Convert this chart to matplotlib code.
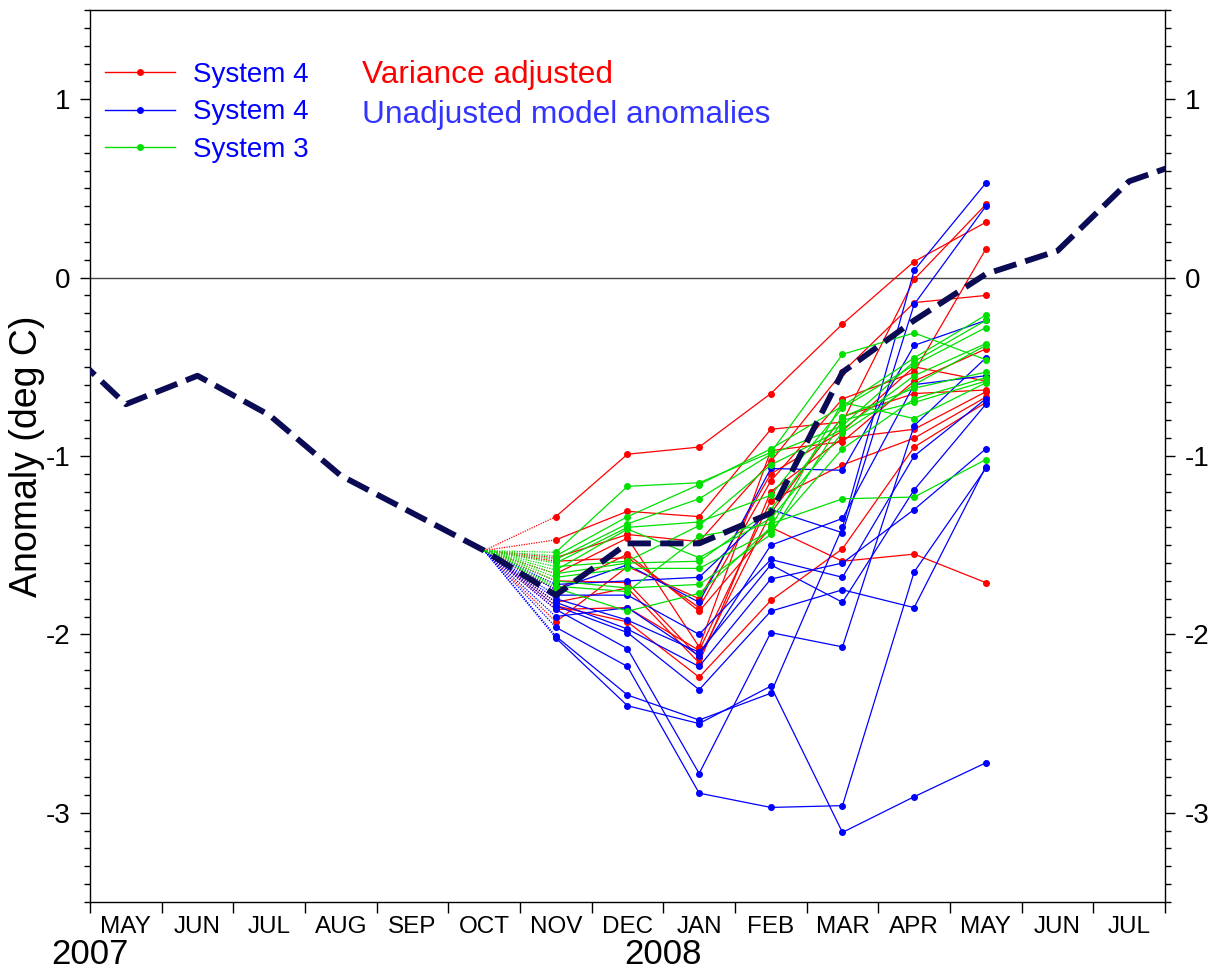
import numpy as np
import matplotlib
matplotlib.use("Agg")
import matplotlib.pyplot as plt
import matplotlib.transforms as mtransforms
from matplotlib.lines import Line2D
from matplotlib.ticker import MultipleLocator, FixedLocator, NullFormatter

plt.rcParams["font.family"] = ["Liberation Sans", "DejaVu Sans"]
plt.rcParams["axes.unicode_minus"] = False

# month labels, MAY 2007 .. JUL 2008 (index 0..14)
month_labels = ["MAY", "JUN", "JUL", "AUG", "SEP", "OCT", "NOV", "DEC",
                "JAN", "FEB", "MAR", "APR", "MAY", "JUN", "JUL"]
year_labels = ["2007", "2008"]
year_starts = [-0.5, 7.5]

# observed anomaly, APR 2007 .. AUG 2008 (index -1..15)
obs_months = np.arange(-1, 16)
observed = [-0.33, -0.71, -0.55, -0.77, -1.11, -1.32, -1.53, -1.78, -1.49,
            -1.49, -1.32, -0.53, -0.24, 0.02, 0.15, 0.54, 0.68]

# forecasts start from OCT and run NOV .. MAY
start_month = 5
fc_months = np.arange(6, 13)

# System 4, variance adjusted
sys4_adjusted = [
    [-1.34, -0.99, -0.95, -0.65, -0.26, 0.09, 0.31],
    [-1.47, -1.31, -1.34, -0.85, -0.81, -0.01, 0.41],
    [-1.57, -1.44, -1.48, -1.03, -0.53, -0.14, -0.10],
    [-1.59, -1.57, -1.85, -1.14, -0.68, -0.53, 0.16],
    [-1.66, -1.46, -2.07, -0.97, -0.92, -0.58, -0.40],
    [-1.70, -1.71, -2.13, -1.32, -0.78, -0.65, -0.63],
    [-1.75, -1.55, -1.87, -1.40, -1.59, -1.55, -1.71],
    [-1.82, -1.74, -2.16, -1.20, -0.90, -0.85, -0.64],
    [-1.84, -1.93, -2.24, -1.81, -1.52, -0.95, -0.70],
    [-1.86, -1.85, -2.09, -1.25, -1.05, -0.90, -0.67],
    [-1.93, -1.62, -1.80, -1.10, -0.86, -0.50, -0.58],
]

# System 4, unadjusted model anomalies
sys4_unadjusted = [
    [-2.02, -2.40, -2.50, -2.29, -3.11, -2.91, -2.72],
    [-2.01, -2.34, -2.48, -2.33, -1.40, 0.04, 0.53],
    [-1.96, -2.18, -2.89, -2.97, -2.96, -1.65, -1.07],
    [-1.86, -2.08, -2.78, -1.99, -2.07, -0.83, -0.45],
    [-1.84, -1.99, -2.31, -1.87, -1.75, -1.85, -1.06],
    [-1.82, -1.97, -2.18, -1.69, -1.60, -1.30, -0.96],
    [-1.80, -1.92, -2.10, -1.61, -1.82, -1.19, -0.71],
    [-1.78, -1.78, -2.00, -1.58, -1.68, -1.00, -0.68],
    [-1.75, -1.61, -1.82, -1.07, -1.08, -0.38, -0.24],
    [-1.72, -1.70, -1.68, -1.30, -1.43, -0.15, 0.40],
    [-1.90, -1.85, -2.12, -1.50, -1.35, -0.60, -0.55],
]

# System 3
sys3 = [
    [-1.54, -1.17, -1.15, -0.98, -0.43, -0.31, -0.46],
    [-1.56, -1.34, -1.16, -0.96, -0.72, -0.45, -0.21],
    [-1.58, -1.38, -1.24, -0.99, -0.83, -0.47, -0.24],
    [-1.60, -1.40, -1.37, -1.22, -0.73, -0.49, -0.28],
    [-1.62, -1.59, -1.39, -1.05, -0.85, -0.55, -0.37],
    [-1.64, -1.41, -1.57, -1.35, -0.87, -0.60, -0.38],
    [-1.66, -1.60, -1.59, -1.30, -0.78, -0.62, -0.53],
    [-1.68, -1.63, -1.63, -1.42, -0.96, -0.68, -0.56],
    [-1.70, -1.74, -1.72, -1.44, -0.80, -0.70, -0.58],
    [-1.73, -1.76, -1.45, -1.38, -1.24, -1.23, -1.02],
    [-1.74, -1.87, -1.77, -1.40, -0.70, -0.79, -0.59],
]

RED = "#ff0000"
BLUE = "#0000ff"
GREEN = "#00e000"
NAVY = "#0b0b55"

fig = plt.figure(figsize=(12.11, 9.73), dpi=100)
ax = fig.add_axes([0.0743, 0.073, 0.8877, 0.9167])

start_value = observed[list(obs_months).index(start_month)]


def draw_members(members, colour):
    for m in members:
        ax.plot([start_month, fc_months[0]], [start_value, m[0]], color=colour,
                lw=0.9, ls=(0, (1, 1)), zorder=2)
        ax.plot(fc_months, m, color=colour, lw=0.9, marker="o", ms=4,
                zorder=3)


draw_members(sys4_adjusted, RED)
draw_members(sys4_unadjusted, BLUE)
draw_members(sys3, GREEN)

ax.axhline(0, color="#444444", lw=1.0, zorder=1)
ax.plot(obs_months, observed, color=NAVY, lw=4.2, dashes=(4, 1.6),
        solid_capstyle="butt", dash_capstyle="butt", zorder=5)

ax.set_xlim(-0.5, 14.5)
ax.set_ylim(-3.5, 1.5)

# y axis on both sides
ax.yaxis.set_major_locator(MultipleLocator(1))
ax.yaxis.set_minor_locator(MultipleLocator(0.1))
ax.tick_params(axis="y", which="both", direction="out", left=True, right=True,
               labelleft=True, labelright=True, labelsize=20)
ax.tick_params(axis="y", which="major", length=7, width=1, pad=7)
ax.tick_params(axis="y", which="minor", length=4, width=1)

# month boundaries as ticks, names centred between them
ax.xaxis.set_major_locator(FixedLocator(np.arange(-0.5, 15, 1)))
ax.xaxis.set_major_formatter(NullFormatter())
ax.xaxis.set_minor_locator(FixedLocator(np.arange(len(month_labels))))
ax.set_xticklabels(month_labels, minor=True)
ax.tick_params(axis="x", which="major", direction="out", length=8, width=1)
ax.tick_params(axis="x", which="minor", length=0, labelsize=17.5, pad=10)

trans = mtransforms.blended_transform_factory(ax.transData, ax.transAxes)
for label, pos in zip(year_labels, year_starts):
    ax.text(pos, -0.059, label, transform=trans, ha="center", va="center",
            fontsize=25)

for side in ax.spines.values():
    side.set_linewidth(1.0)

ax.set_ylabel("Anomaly (deg C)", fontsize=27)
ax.yaxis.set_label_coords(-0.042, 0.5)

handles = [Line2D([], [], color=c, lw=1.0, marker="o", ms=4)
           for c in (RED, BLUE, GREEN)]
ax.legend(handles, ["System 4", "System 4", "System 3"], loc="upper left",
          bbox_to_anchor=(-0.004, 0.964), frameon=False, fontsize=20,
          labelcolor=BLUE, handlelength=2.5, handletextpad=0.65,
          labelspacing=0.42, borderaxespad=0.3)

ax.text(0.253, 0.927, "Variance adjusted", transform=ax.transAxes,
        color=RED, fontsize=22.8, va="center", ha="left")
ax.text(0.253, 0.882, "Unadjusted model anomalies", transform=ax.transAxes,
        color="#3333ff", fontsize=22.8, va="center", ha="left")

fig.savefig("out.png", dpi=100)
